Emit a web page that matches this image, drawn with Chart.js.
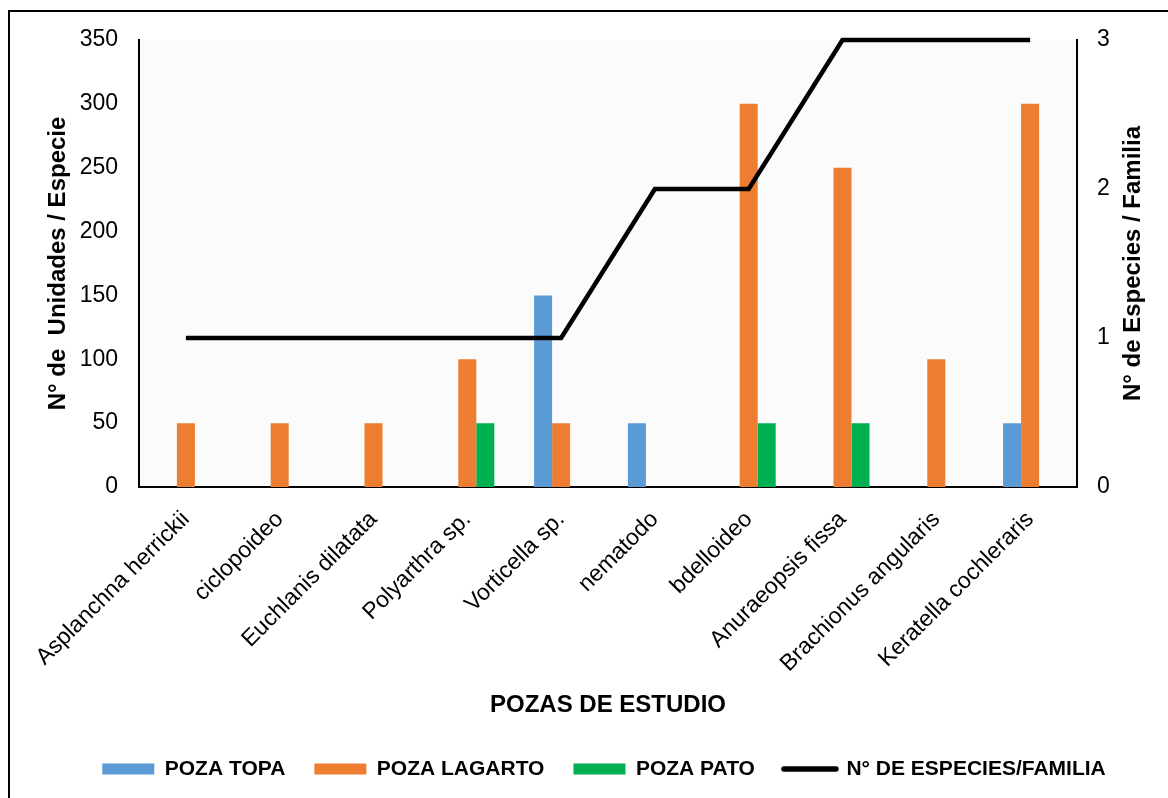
<!DOCTYPE html>
<html>
<head>
<meta charset="utf-8">
<script src="https://cdn.jsdelivr.net/npm/chart.js@4.4.1/dist/chart.umd.min.js"></script>
<style>
  html, body { margin: 0; padding: 0; background: #fff; overflow: hidden; }
  #frame { position: absolute; left: 8px; top: 10px; width: 1220px; height: 840px; border: 2px solid #000; box-sizing: border-box; }
  #wrap { position: absolute; left: 0; top: 0; width: 1168px; height: 798px; }
</style>
</head>
<body>
<div id="frame"></div>
<div id="wrap"><canvas id="c" width="1168" height="798"></canvas></div>
<script>
// Species found in each pool
const categories = [
  'Asplanchna herrickii', 'ciclopoideo', 'Euchlanis dilatata', 'Polyarthra sp.',
  'Vorticella sp.', 'nematodo', 'bdelloideo', 'Anuraeopsis fissa',
  'Brachionus angularis', 'Keratella cochleraris'
];
const pozaTopa    = [0, 0, 0, 0, 150, 50, 0, 0, 0, 50];
const pozaLagarto = [50, 50, 50, 100, 50, 0, 300, 250, 100, 300];
const pozaPato    = [0, 0, 0, 50, 0, 0, 50, 50, 0, 0];
const especiesPorFamilia = [1, 1, 1, 1, 1, 2, 2, 3, 3, 3];

const seriesNames = ['POZA TOPA', 'POZA LAGARTO', 'POZA PATO', 'N° DE ESPECIES/FAMILIA'];
const leftAxisTitle = 'N° de  Unidades / Especie';
const rightAxisTitle = 'N° de Especies / Familia';
const xAxisTitle = 'POZAS DE ESTUDIO';
const leftAxisRange = [0, 350, 50];
const rightAxisRange = [0, 3, 1];

const FONT = "'Liberation Sans', Arial, sans-serif";
Chart.defaults.font.family = FONT;
Chart.defaults.color = '#000';

// light fill behind the plot area
const plotBackground = {
  id: 'plotBackground',
  beforeDraw(chart) {
    const { ctx, chartArea: a } = chart;
    ctx.save();
    ctx.fillStyle = '#fbfbfb';
    ctx.fillRect(a.left, a.top, a.right - a.left, a.bottom - a.top);
    ctx.restore();
  }
};

// secondary axis title, reading bottom to top like the primary one
const rightTitle = {
  id: 'rightTitle',
  afterDraw(chart) {
    const { ctx, chartArea: a } = chart;
    ctx.save();
    ctx.translate(1133, (a.top + a.bottom) / 2);
    ctx.rotate(-Math.PI / 2);
    ctx.font = 'bold 24px ' + FONT;
    ctx.fillStyle = '#000';
    ctx.textAlign = 'center';
    ctx.textBaseline = 'middle';
    ctx.fillText(rightAxisTitle, 0, 0);
    ctx.restore();
  }
};

new Chart(document.getElementById('c'), {
  data: {
    labels: categories,
    datasets: [
      { type: 'line', label: seriesNames[3], data: especiesPorFamilia, yAxisID: 'y2',
        borderColor: '#000', backgroundColor: '#000', borderWidth: 4.5,
        pointRadius: 0, tension: 0, clip: false, order: 0 },
      { type: 'bar', label: seriesNames[0], data: pozaTopa, yAxisID: 'y',
        backgroundColor: '#5B9BD5', order: 1 },
      { type: 'bar', label: seriesNames[1], data: pozaLagarto, yAxisID: 'y',
        backgroundColor: '#ED7D31', order: 1 },
      { type: 'bar', label: seriesNames[2], data: pozaPato, yAxisID: 'y',
        backgroundColor: '#00B050', order: 1 }
    ]
  },
  options: {
    responsive: false,
    animation: false,
    devicePixelRatio: 1,
    datasets: { bar: { barPercentage: 1, categoryPercentage: 0.576 } },
    layout: { padding: { left: 40, right: 0, top: 40, bottom: 8.5 } },
    plugins: {
      tooltip: { enabled: false },
      legend: {
        position: 'bottom',
        labels: {
          usePointStyle: true,
          pointStyleWidth: 52,
          boxHeight: 11,
          padding: 29,
          font: { size: 21, weight: 'bold' },
          sort: (a, b) => (a.datasetIndex === 0) - (b.datasetIndex === 0) || a.datasetIndex - b.datasetIndex,
          generateLabels(chart) {
            const items = Chart.defaults.plugins.legend.labels.generateLabels(chart);
            items.forEach(it => {
              const ds = chart.data.datasets[it.datasetIndex];
              if (ds.type === 'line') {
                it.pointStyle = 'line';
                it.strokeStyle = '#000';
                it.lineWidth = 5.5;
                it.lineCap = 'round';
              } else {
                it.pointStyle = 'rect';
                it.lineWidth = 0;
              }
            });
            return items;
          }
        }
      }
    },
    scales: {
      x: {
        grid: { display: false, drawTicks: false },
        border: { display: true, color: '#000', width: 2 },
        ticks: { font: { size: 23 }, minRotation: 45, maxRotation: 45, padding: 19, autoSkip: false },
        title: { display: true, text: xAxisTitle, font: { size: 24, weight: 'bold' },
                 padding: { top: 0, bottom: 10 } },
        afterFit(scale) { scale.height = 242.5; }
      },
      y: {
        position: 'left',
        min: leftAxisRange[0], max: leftAxisRange[1],
        grid: { display: false, drawTicks: false },
        border: { display: true, color: '#000', width: 2 },
        ticks: { stepSize: leftAxisRange[2], font: { size: 23 }, padding: 21 },
        title: { display: true, text: leftAxisTitle, font: { size: 24, weight: 'bold' },
                 padding: { top: 4, bottom: 0 } },
        afterFit(scale) { scale.width = 99; }
      },
      y2: {
        position: 'right',
        min: rightAxisRange[0], max: rightAxisRange[1],
        grid: { display: false, drawTicks: false },
        border: { display: true, color: '#000', width: 2 },
        ticks: { stepSize: rightAxisRange[2], font: { size: 23 }, padding: 20 },
        afterFit(scale) { scale.width = 91; }
      }
    }
  },
  plugins: [plotBackground, rightTitle]
});
</script>
</body>
</html>
